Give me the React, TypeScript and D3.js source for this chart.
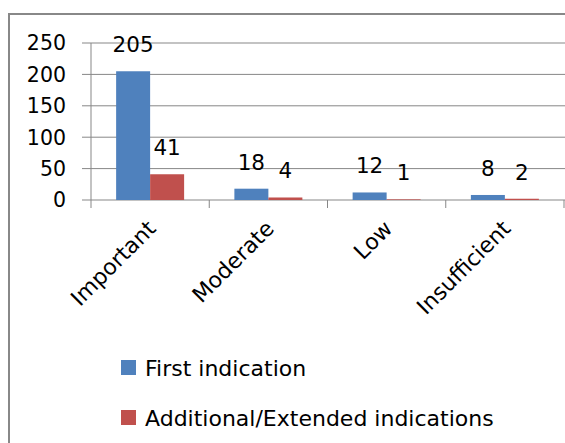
import React from "react";
import * as d3 from "d3";

const categories = ["Important", "Moderate", "Low", "Insufficient"];
const seriesNames = ["First indication", "Additional/Extended indications"];
const firstIndication = [205, 18, 12, 8];
const additionalIndications = [41, 4, 1, 2];
const yTicks = [0, 50, 100, 150, 200, 250];
const colors = ["#4F81BD", "#C0504D"];

const W = 565;
const H = 443;
const FONT = "'DejaVu Sans', sans-serif";

export default function App() {
  const plotLeft = 91;
  const plotRight = 564;
  const plotTop = 43;
  const plotBottom = 200;

  const x0 = d3.scaleBand<string>().domain(categories).range([plotLeft, plotRight]).padding(0);
  const groupW = x0.bandwidth() * 0.575;
  const x1 = d3
    .scaleBand<string>()
    .domain(seriesNames)
    .range([(x0.bandwidth() - groupW) / 2, (x0.bandwidth() + groupW) / 2])
    .padding(0);
  const y = d3.scaleLinear().domain([0, 250]).range([plotBottom, plotTop]);

  const series = [firstIndication, additionalIndications];
  const gridColor = "#878787";

  return (
    <svg
      width={W}
      height={H}
      style={{ position: "absolute", left: 0, top: 0, background: "#fff" }}
      fontFamily={FONT}
    >
      <rect x={0} y={0} width={W} height={H} fill="#fff" />
      <rect x={9} y={14} width={700} height={600} fill="none" stroke="#888" strokeWidth={2} />

      {/* gridlines and y ticks */}
      {yTicks.map((t) => (
        <line key={"g" + t} x1={82} x2={plotRight + 2} y1={y(t)} y2={y(t)} stroke={gridColor} strokeWidth={1} />
      ))}
      {/* y axis */}
      <line x1={plotLeft} x2={plotLeft} y1={plotTop} y2={plotBottom} stroke={gridColor} strokeWidth={1} />
      {/* category ticks */}
      {[...categories.map((c) => x0(c) as number), plotRight].map((xv, i) => (
        <line key={"ct" + i} x1={xv} x2={xv} y1={plotBottom} y2={plotBottom + 8} stroke={gridColor} strokeWidth={1} />
      ))}

      {/* y labels */}
      {yTicks.map((t) => (
        <text key={"yl" + t} x={66} y={y(t)} dy="0.36em" textAnchor="end" fontSize={20.5} fill="#000">
          {t}
        </text>
      ))}

      {/* bars */}
      {categories.map((c, ci) =>
        series.map((s, si) => {
          const bx = (x0(c) as number) + (x1(seriesNames[si]) as number);
          const bw = x1.bandwidth();
          return (
            <g key={c + si}>
              <rect x={bx} y={y(s[ci])} width={bw} height={plotBottom - y(s[ci])} fill={colors[si]} />
              <text x={bx + bw / 2} y={y(s[ci]) - 19} textAnchor="middle" fontSize={21.5} fill="#000">
                {s[ci]}
              </text>
            </g>
          );
        })
      )}

      {/* category labels */}
      {categories.map((c) => {
        const cx = (x0(c) as number) + x0.bandwidth() / 2 + 7;
        const cy = 230;
        return (
          <text
            key={"cl" + c}
            x={cx}
            y={cy}
            textAnchor="end"
            fontSize={22}
            fill="#000"
            transform={`rotate(-45, ${cx}, ${cy})`}
          >
            {c}
          </text>
        );
      })}

      {/* legend */}
      {seriesNames.map((n, i) => (
        <g key={"lg" + n} transform={`translate(121, ${360 + i * 50})`}>
          <rect x={0} y={0} width={15} height={15} fill={colors[i]} />
          <text x={24} y={15.5} fontSize={22} fill="#000">
            {n}
          </text>
        </g>
      ))}
    </svg>
  );
}
